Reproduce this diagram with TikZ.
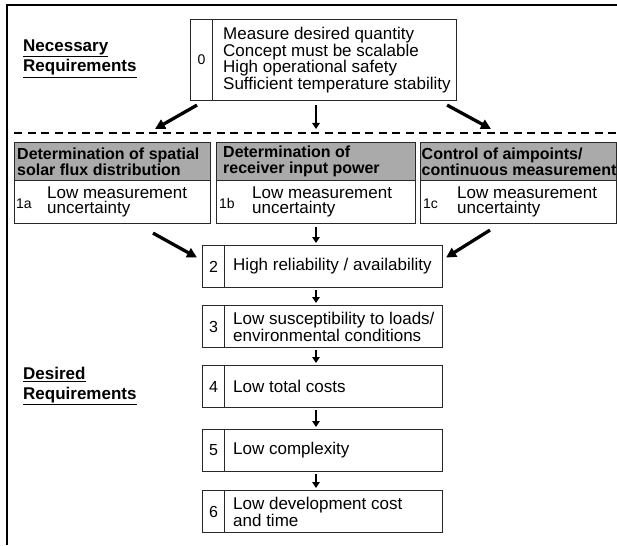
\documentclass[tikz,border=0pt]{standalone}
\usepackage{fontspec}
\setmainfont{Liberation Sans}
\usetikzlibrary{arrows.meta,calc}
\definecolor{headgray}{RGB}{170,170,170}
\definecolor{boxline}{RGB}{40,40,40}
\begin{document}
\begin{tikzpicture}[x=1pt,y=-1pt,
  frame/.style={draw=boxline, line width=1.1pt, inner sep=0pt, anchor=north west},
  numcell/.style={frame, minimum width=22pt, minimum height=42pt, font=\fontsize{16}{17}\selectfont},
  txtcell/.style={frame, minimum width=218pt, minimum height=42pt},
  txt/.style={anchor=west, inner sep=0pt, align=left, font=\fontsize{17}{14.2}\selectfont},
  lowtxt/.style={txt, font=\fontsize{17}{15.2}\selectfont},
  head/.style={frame, fill=headgray, minimum height=38pt},
  headtxt/.style={anchor=west, inner sep=0pt, align=left, font=\bfseries\fontsize{16}{15.5}\selectfont},
  lowbox/.style={frame, minimum height=43pt},
  numsmall/.style={anchor=west, inner sep=0pt, font=\fontsize{14}{14}\selectfont},
  sidelabel/.style={anchor=west, inner sep=0pt, align=left, font=\bfseries\fontsize{17}{20.5}\selectfont},
  bigarrow/.style={line width=3.3pt, -{Triangle[length=10pt,width=10pt]}},
  smallarrow/.style={line width=2.8pt, -{Triangle[length=6pt,width=7.5pt]}}
]
\useasboundingbox (0,0) rectangle (617,545);
% outer frame
\draw[line width=2pt] (7,545) -- (7,5) -- (617,5);

% side labels
\node[sidelabel] (nec) at (23,58.5) {\underline{Necessary}\\\underline{Requirements}};
\node[sidelabel] (des) at (23,386) {\underline{Desired}\\\underline{Requirements}};

% box 0
\node[frame, minimum width=22pt, minimum height=81pt, font=\fontsize{14}{15}\selectfont] (n0) at (190,19) {0};
\node[frame, minimum width=244pt, minimum height=81pt] (b0) at (212,19) {};
\node[anchor=west, inner sep=0pt, align=left, font=\fontsize{17}{16.7}\selectfont] (t0) at ($(b0.west)+(11,0)$)
  {Measure desired quantity\\Concept must be scalable\\High operational safety\\Sufficient temperature stability};

% dashed separator
\coordinate (dl) at (14,133);
\coordinate (dr) at (617,133);
\draw[line width=1.6pt, dash pattern=on 8pt off 5.5pt] (dl) -- (dr);

% arrows from box 0
\coordinate (e1) at (155,129);
\coordinate (e2) at (316,129);
\coordinate (e3) at (491,129);
\draw[bigarrow] ($(n0.south west)+(7,4)$) -- (e1);
\draw[smallarrow] (b0.south -| e2) ++(0,4) -- (e2);
\draw[bigarrow] ($(b0.south east)+(-10,4)$) -- (e3);

% three columns
\node[head, minimum width=196pt] (h1) at (14,142) {};
\node[headtxt] at ($(h1.west)+(3,0)$) {Determination of spatial\\solar flux distribution};
\node[lowbox, minimum width=196pt] (l1) at (14,180) {};
\node[numsmall] at ($(l1.west)+(2,1.5)$) {1a};
\node[lowtxt] at ($(l1.west)+(33,0)$) {Low measurement\\uncertainty};

\node[head, minimum width=199pt] (h2) at (216,142) {};
\node[headtxt] at ($(h2.west)+(7,0)$) {Determination of\\receiver input power};
\node[lowbox, minimum width=199pt] (l2) at (216,180) {};
\node[numsmall] at ($(l2.west)+(3,1.5)$) {1b};
\node[lowtxt] (t1b) at ($(l2.west)+(36,0)$) {Low measurement\\uncertainty};

\node[head, minimum width=196pt] (h3) at (420,142) {};
\node[headtxt] at ($(h3.west)+(1.5,0)$) {Control of aimpoints/\\continuous measurement};
\node[lowbox, minimum width=196pt] (l3) at (420,180) {};
\node[numsmall] at ($(l3.west)+(3,1.5)$) {1c};
\node[lowtxt] at ($(l3.west)+(37,0)$) {Low measurement\\uncertainty};

% desired chain
\node[numcell] (n2) at (202,245) {2};
\node[txtcell] (b2) at (224,245) {};
\node[txt] at ($(b2.west)+(9,0)$) {High reliability / availability};

\node[numcell] (n3) at (202,305) {3};
\node[txtcell] (b3) at (224,305) {};
\node[txt] at ($(b3.west)+(9,0)$) {Low susceptibility to loads/\\environmental conditions};

\node[numcell] (n4) at (202,365) {4};
\node[txtcell] (b4) at (224,365) {};
\node[txt] at ($(b4.west)+(9,0)$) {Low total costs};

\node[numcell] (n5) at (202,429) {5};
\node[txtcell] (b5) at (224,429) {};
\node[txt] at ($(b5.west)+(9,0)$) {Low complexity};

\node[numcell] (n6) at (202,490) {6};
\node[txtcell] (b6) at (224,490) {};
\node[txt] at ($(b6.west)+(9,0)$) {Low development cost\\and time};

% arrows into box 2
\coordinate (ax) at (316,0);
\draw[bigarrow] ($(l1.south west)+(139,9)$) -- ($(n2.west)+(-5,-9)$);
\draw[smallarrow] ($(l2.south -| ax)+(0,3)$) -- ($(n2.north -| ax)+(0,-2)$);
\draw[bigarrow] ($(l3.south west)+(70,6)$) -- ($(b2.east)+(3,-9)$);

% chain arrows
\draw[smallarrow] (b2.south -| ax) ++(0,2) -- ($(b3.north -| ax)+(0,-2)$);
\draw[smallarrow] (b3.south -| ax) ++(0,2) -- ($(b4.north -| ax)+(0,-2)$);
\draw[smallarrow] (b4.south -| ax) ++(0,2) -- ($(b5.north -| ax)+(0,-2)$);
\draw[smallarrow] (b5.south -| ax) ++(0,2) -- ($(b6.north -| ax)+(0,-2)$);
\end{tikzpicture}
\end{document}
